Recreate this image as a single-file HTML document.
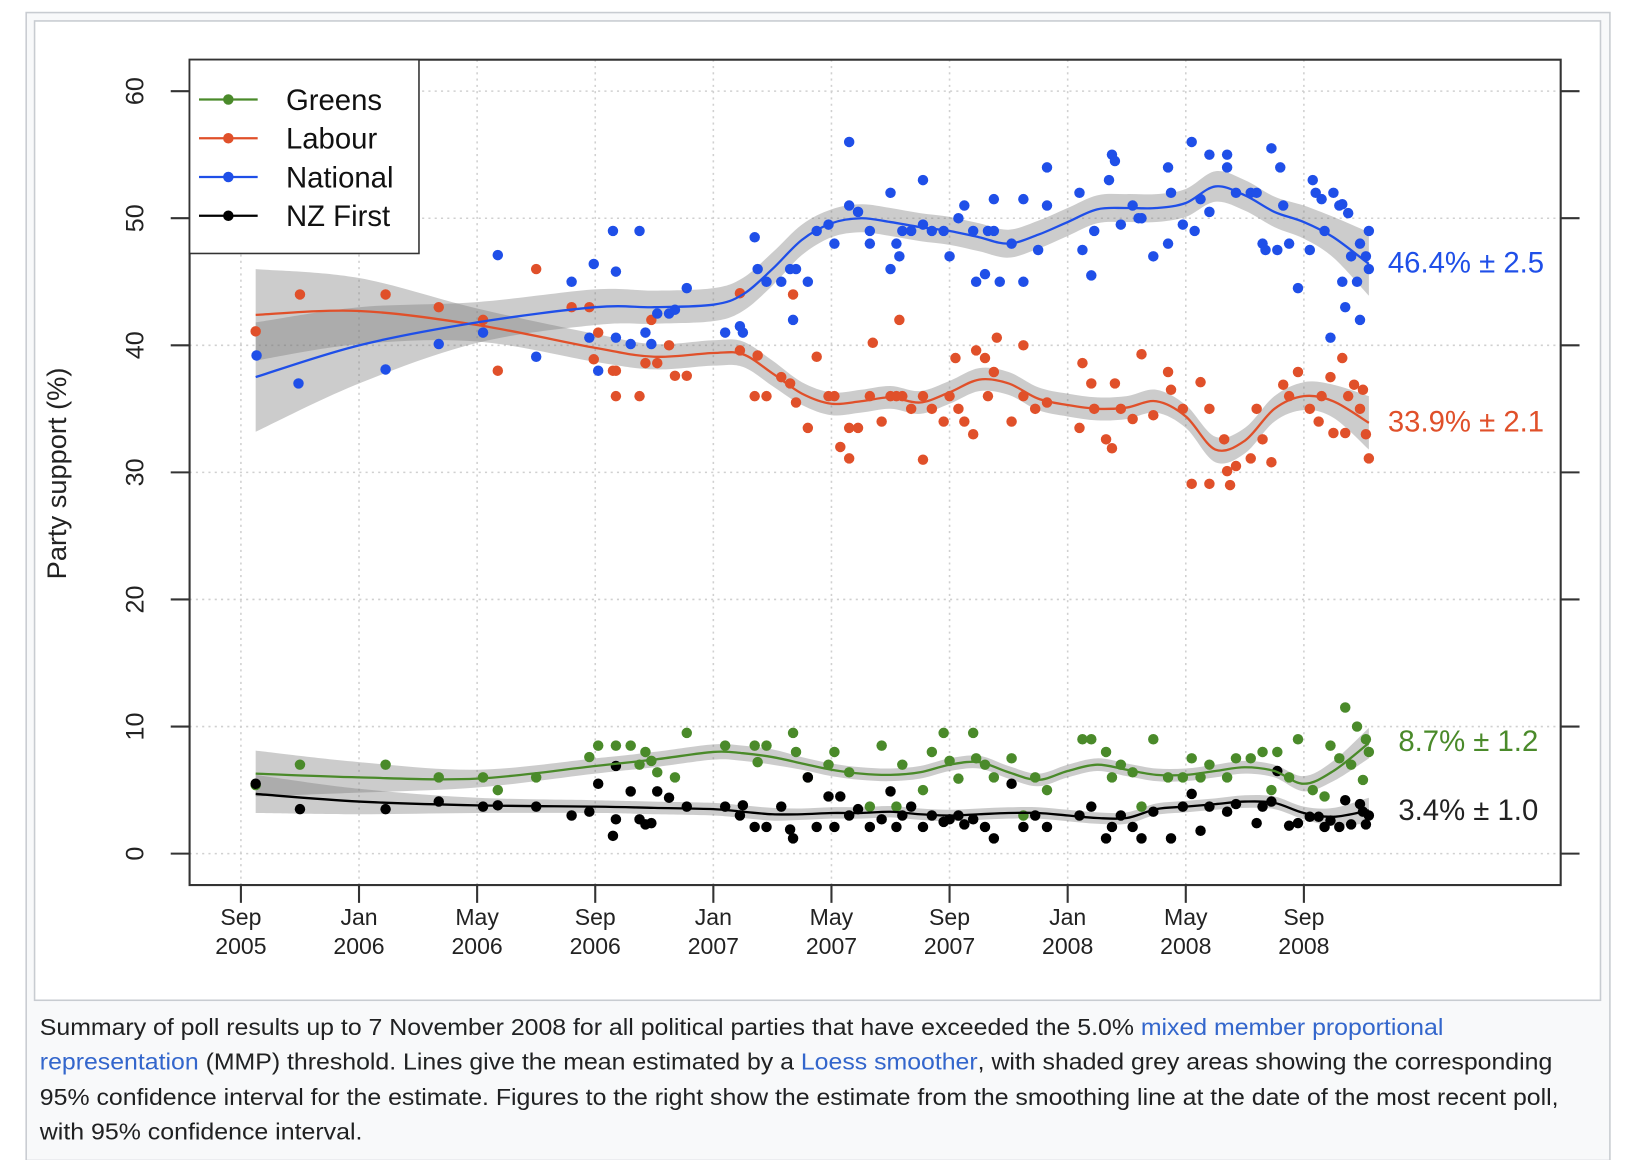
<!DOCTYPE html>
<html><head><meta charset="utf-8">
<style>
html,body{margin:0;padding:0;background:#fff;}
svg{display:block;}
text{font-family:"Liberation Sans",Arial,sans-serif;}
</style></head>
<body>
<svg id="chart" width="1634" height="1160" viewBox="0 0 1560 1107.5" preserveAspectRatio="none" xmlns="http://www.w3.org/2000/svg">
  <rect x="25" y="12" width="1512" height="1096" fill="#f8f9fa" stroke="#c8ccd1" stroke-width="1.5"/>
  <rect x="33" y="20" width="1495" height="935" fill="#ffffff" stroke="#c8ccd1" stroke-width="1.5"/>
  <g id="grid"></g>
  <g id="bands"></g>
  <g id="points"></g>
  <g id="lines"></g>
  <g id="axes"></g>
  <rect x="181" y="57" width="1309" height="788" fill="none" stroke="#333" stroke-width="2"/>
  <text transform="translate(63,452) rotate(-90)" text-anchor="middle" font-size="26" fill="#222">Party support (%)</text>
  <g id="legend">
    <rect x="181" y="57" width="219" height="185" fill="#fff" stroke="#333" stroke-width="1.5"/>
  </g>
  <g id="endlabels">
    <text x="1325" y="260" font-size="28" fill="#1f4fe8">46.4% ± 2.5</text>
    <text x="1325" y="412" font-size="28" fill="#e0502a">33.9% ± 2.1</text>
    <text x="1335" y="717" font-size="28" fill="#4a8a2a">8.7% ± 1.2</text>
    <text x="1335" y="783" font-size="28" fill="#222">3.4% ± 1.0</text>
  </g>
  <g font-size="22.5" fill="#202122">
    <text x="38" y="988" textLength="1340" lengthAdjust="spacingAndGlyphs">Summary of poll results up to 7 November 2008 for all political parties that have exceeded the 5.0% <tspan fill="#3366cc">mixed member proportional</tspan></text>
    <text x="38" y="1021" textLength="1444" lengthAdjust="spacingAndGlyphs"><tspan fill="#3366cc">representation</tspan> (MMP) threshold. Lines give the mean estimated by a <tspan fill="#3366cc">Loess smoother</tspan>, with shaded grey areas showing the corresponding</text>
    <text x="38" y="1055" textLength="1450" lengthAdjust="spacingAndGlyphs">95% confidence interval for the estimate. Figures to the right show the estimate from the smoothing line at the date of the most recent poll,</text>
    <text x="38" y="1088" textLength="308" lengthAdjust="spacingAndGlyphs">with 95% confidence interval.</text>
  </g>
</svg>
<script>
// ---- data (months since Sep 2005, percent) ----
const xTickMonths = [0,4,8,12,16,20,24,28,32,36];
const xTickMonthLabels = ["Sep","Jan","May","Sep","Jan","May","Sep","Jan","May","Sep"];
const xTickYearLabels = ["2005","2006","2006","2006","2007","2007","2007","2008","2008","2008"];
const yTicks = [0,10,20,30,40,50,60];
const parties = ["Greens","Labour","National","NZ First"];

const nationalPolls = [[0.53,39.2],[1.95,37],[4.9,38.1],[6.7,40.1],[8.2,41],[8.7,47.1],[10,39.1],[11.2,45],[11.8,40.6],[11.95,46.4],[12.1,38],[12.6,49],[12.7,45.8],[12.7,40.6],[13.2,40.1],[13.5,49],[13.7,41],[13.9,40.1],[14.1,42.5],[14.5,42.5],[14.7,42.8],[15.1,44.5],[16.4,41],[17,41],[16.9,41.5],[17.4,48.5],[17.5,46],[17.8,45],[18.3,45],[18.6,46],[18.7,42],[18.8,46],[19.2,45],[19.5,49],[19.9,49.5],[20.1,48],[20.6,56],[20.6,51],[20.9,50.5],[21.3,49],[21.3,48],[22,46],[22,52],[22.2,48],[22.3,47],[22.4,49],[22.7,49],[23.1,53],[23.1,49.5],[23.4,49],[23.8,49],[24,47],[24.3,50],[24.5,51],[24.8,49],[24.9,45],[25.2,45.6],[25.3,49],[25.5,49],[25.5,51.5],[25.7,45],[26.1,48],[26.5,45],[26.5,51.5],[27,47.5],[27.3,54],[27.3,51],[28.4,52],[28.5,47.5],[28.8,45.5],[28.9,49],[29.4,53],[29.5,55],[29.6,54.5],[29.8,49.5],[30.2,51],[30.4,50],[30.5,50],[30.9,47],[31.4,48],[31.4,54],[31.5,52],[31.9,49.5],[32.2,56],[32.3,49],[32.5,51.5],[32.8,55],[32.8,50.5],[33.4,54],[33.4,55],[33.7,52],[34.2,52],[34.4,52],[34.6,48],[34.7,47.5],[34.9,55.5],[35.1,47.5],[35.2,54],[35.3,51],[35.5,48],[35.8,44.5],[36.2,47.5],[36.3,53],[36.4,52],[36.6,51.5],[36.7,49],[36.9,40.6],[37,52],[37.2,51],[37.3,51.1],[37.3,45],[37.4,43],[37.5,50.4],[37.6,47],[37.8,45],[37.9,42],[37.9,48],[38.1,47],[38.2,49],[38.2,46]];
const labourPolls = [[0.5,41.1],[2,44],[4.9,44],[6.7,43],[8.2,42],[8.7,38],[10,46],[11.2,43],[11.8,43],[12.1,41],[11.95,38.9],[12.6,38],[12.7,36],[12.7,38],[13.5,36],[13.7,38.6],[13.9,42],[14.1,38.6],[14.5,40],[14.7,37.6],[15.1,37.6],[16.9,44.1],[16.9,39.6],[17.4,36],[17.5,39.2],[17.8,36],[18.3,37.5],[18.6,37],[18.7,44],[18.8,35.5],[19.2,33.5],[19.5,39.1],[19.9,36],[20.1,36],[20.3,32],[20.6,31.1],[20.6,33.5],[20.9,33.5],[21.3,36],[21.4,40.2],[21.7,34],[22,36],[22.2,36],[22.3,42],[22.4,36],[22.7,35],[23.1,31],[23.1,36],[23.4,35],[23.8,34],[24,36],[24.2,39],[24.3,35],[24.5,34],[24.8,33],[24.9,39.6],[25.2,39],[25.3,36],[25.5,37.9],[25.6,40.6],[26.1,34],[26.5,40],[26.5,36],[26.9,35],[27.3,35.5],[28.4,33.5],[28.5,38.6],[28.8,37],[28.9,35],[29.3,32.6],[29.5,31.9],[29.6,37],[29.8,35],[30.2,34.2],[30.5,39.3],[30.9,34.5],[31.4,37.9],[31.5,36.5],[31.9,35],[32.2,29.1],[32.5,37.1],[32.8,29.1],[32.8,35],[33.3,32.6],[33.4,30.1],[33.5,29],[33.7,30.5],[34.2,31.1],[34.4,35],[34.6,32.6],[34.9,30.8],[35.3,36.9],[35.5,36],[35.8,37.9],[36.2,35],[36.5,34],[36.6,36],[36.9,37.5],[37,33.1],[37.3,39],[37.4,33.1],[37.5,36],[37.7,36.9],[37.9,35],[38,36.5],[38.1,33],[38.2,31.1]];
const greensPolls = [[0.5,5.4],[2,7],[4.9,7],[6.7,6],[8.2,6],[8.7,5],[10,6],[11.8,7.6],[12.1,8.5],[12.7,8.5],[13.2,8.5],[13.5,7],[13.7,8],[13.9,7.3],[14.1,6.4],[14.7,6],[15.1,9.5],[16.4,8.5],[17.4,8.5],[17.5,7.2],[17.8,8.5],[18.7,9.5],[18.8,8],[19.2,6],[19.9,7],[20.1,8],[20.6,6.4],[21.3,3.7],[21.7,8.5],[22.2,3.7],[22.4,7],[23.1,5],[23.4,8],[23.8,9.5],[24,7.3],[24.3,5.9],[24.8,9.5],[24.9,7.5],[25.2,7],[25.5,6],[26.1,7.5],[26.5,3],[26.9,6],[27.3,5],[28.5,9],[28.8,9],[29.3,8],[29.5,6],[29.8,7],[30.2,6.4],[30.5,3.7],[30.9,9],[31.4,6],[31.9,6],[32.2,7.5],[32.5,6],[32.8,7],[33.4,6],[33.7,7.5],[34.2,7.5],[34.6,8],[34.9,5],[35.1,8],[35.5,6],[35.8,9],[36.3,5],[36.7,4.5],[36.9,8.5],[37.2,7.5],[37.4,11.5],[37.6,7],[37.8,10],[38,5.8],[38.1,9],[38.2,8]];
const nzfirstPolls = [[0.5,5.5],[2,3.5],[4.9,3.5],[6.7,4.1],[8.2,3.7],[8.7,3.8],[10,3.7],[11.2,3],[11.8,3.3],[12.1,5.5],[12.6,1.4],[12.7,2.7],[12.7,6.9],[13.2,4.9],[13.5,2.7],[13.7,2.3],[13.9,2.4],[14.1,4.9],[14.5,4.4],[15.1,3.7],[16.4,3.7],[16.9,3],[17,3.8],[17.4,2.1],[17.8,2.1],[18.3,3.7],[18.6,1.9],[18.7,1.2],[19.2,6],[19.5,2.1],[19.9,4.5],[20.1,2.1],[20.3,4.5],[20.6,3],[20.9,3.5],[21.3,2.1],[21.7,2.7],[22,4.9],[22.2,2.1],[22.4,3],[22.7,3.7],[23.1,2.1],[23.4,3],[23.8,2.5],[24,2.7],[24.3,3],[24.5,2.3],[24.8,2.7],[25.2,2.1],[25.5,1.2],[26.1,5.5],[26.5,2.1],[26.9,3],[27.3,2.1],[28.4,3],[28.8,3.7],[29.3,1.2],[29.5,2.1],[29.8,3],[30.2,2.1],[30.5,1.2],[30.9,3.3],[31.5,1.2],[31.9,3.7],[32.2,4.7],[32.5,1.8],[32.8,3.7],[33.4,3.3],[33.7,3.9],[34.4,2.4],[34.6,3.7],[34.9,4.1],[35.1,6.5],[35.5,2.2],[35.8,2.4],[36.2,2.9],[36.5,2.9],[36.7,2.1],[36.9,2.6],[37.2,2.1],[37.4,4.2],[37.6,2.3],[37.9,3.9],[38,3.3],[38.1,2.3],[38.2,3]];

const smoothMonths = [0.5,4,8,12,14,16,17,18,19,20,21,22,23,24,25,26,27,28,29,30,31,32,33,34,35,36,37,38.2];
const nationalSmooth = [37.5,40,41.8,43,43,43.2,44,46,48.3,49.6,50,49.7,49.3,49,48.5,48,48.7,49.7,50.7,50.8,50.8,51.2,52.5,51.8,50.5,49.7,48.5,46.4];
const nationalBand   = [4.3,3,1.6,1.4,1.3,1.3,1.3,1.3,1.2,1.1,1.1,1.1,1.1,1.1,1.1,1.1,1.1,1.1,1.1,1.1,1.1,1.1,1.2,1.2,1.2,1.3,1.6,2.5];
const labourSmooth   = [42.4,42.7,41.6,39.8,39.1,39.4,39.3,37.8,36.2,35.4,35.6,35.9,35.5,36.3,37.3,37,35.8,35.3,35,35.1,35.6,34.4,31.8,32.5,35,36,35.6,33.9];
const labourBand     = [3.6,2.6,1.3,1.1,1,1,1,1,0.9,0.9,0.9,0.9,0.9,0.9,0.9,0.9,0.9,0.9,0.9,0.9,0.9,0.9,1,1,1,1.1,1.3,2.1];
const greensSmooth   = [6.3,6,5.9,6.9,7.4,8,7.9,7.6,7.1,6.6,6.3,6.2,6.4,7,7.2,6.4,5.8,6.5,7,6.6,6.2,6.2,6.5,6.8,6.5,5.5,6.5,8.7];
const greensBand     = [1.8,1.2,0.7,0.6,0.6,0.6,0.6,0.6,0.5,0.5,0.5,0.5,0.5,0.5,0.5,0.5,0.5,0.5,0.5,0.5,0.5,0.5,0.5,0.5,0.5,0.6,0.8,1.2];
const nzfirstSmooth  = [4.7,4.1,3.8,3.7,3.6,3.5,3.3,3.1,3.1,3.2,3.2,3.3,3.1,3,3.1,3.2,3.2,3.0,2.8,2.8,3.5,3.7,3.9,4.1,4.0,3.2,2.9,3.4];
const nzfirstBand    = [1.5,1,0.6,0.5,0.5,0.5,0.5,0.5,0.45,0.45,0.45,0.45,0.45,0.45,0.45,0.45,0.45,0.45,0.45,0.45,0.45,0.45,0.45,0.5,0.5,0.5,0.7,1.0];

// ---- scales ----
const NS = "http://www.w3.org/2000/svg";
function X(m){ return 230 + m*28.19; }
function Y(v){ return 815 - v*12.133; }
function mk(tag, attrs, parent){
  const e = document.createElementNS(NS, tag);
  for (const k in attrs) e.setAttribute(k, attrs[k]);
  parent.appendChild(e); return e;
}
function curve(pts){
  let d = "M" + pts[0][0].toFixed(1) + "," + pts[0][1].toFixed(1);
  for (let i=0;i<pts.length-1;i++){
    const p0 = pts[i-1]||pts[i], p1=pts[i], p2=pts[i+1], p3=pts[i+2]||p2;
    const c1x=p1[0]+(p2[0]-p0[0])/6, c1y=p1[1]+(p2[1]-p0[1])/6;
    const c2x=p2[0]-(p3[0]-p1[0])/6, c2y=p2[1]-(p3[1]-p1[1])/6;
    d += " C"+c1x.toFixed(1)+","+c1y.toFixed(1)+" "+c2x.toFixed(1)+","+c2y.toFixed(1)+" "+p2[0].toFixed(1)+","+p2[1].toFixed(1);
  }
  return d;
}
function curveCont(pts){ return curve(pts).replace(/^M/,"L"); }

const grid = document.getElementById('grid');
const axes = document.getElementById('axes');
yTicks.forEach(v=>{
  const g = mk('line',{x1:181,x2:1490,y1:Y(v),y2:Y(v),stroke:'#d0d0d0','stroke-width':1.5,'stroke-dasharray':'2,4'},grid);
  
  
  const t1 = mk('line',{x1:163,x2:181,y1:Y(v),y2:Y(v),stroke:'#333','stroke-width':2},axes);
  
  
  const t2 = mk('line',{x1:1490,x2:1508,y1:Y(v),y2:Y(v),stroke:'#333','stroke-width':2},axes);
  
  
  const tl = mk('text',{transform:'translate(137,'+Y(v)+') rotate(-90)','text-anchor':'middle','font-size':24,fill:'#222'},axes);
  tl.textContent = String(v);
  
  
});
xTickMonths.forEach((m,i)=>{
  const g = mk('line',{x1:X(m),x2:X(m),y1:57,y2:845,stroke:'#d0d0d0','stroke-width':1.5,'stroke-dasharray':'2,4'},grid);
  
  
  const t = mk('line',{x1:X(m),x2:X(m),y1:845,y2:862,stroke:'#333','stroke-width':2},axes);
  
  
  const a = mk('text',{x:X(m),y:883,'text-anchor':'middle','font-size':22,fill:'#222'},axes);
  a.textContent = xTickMonthLabels[i];
  
  
  const b = mk('text',{x:X(m),y:911,'text-anchor':'middle','font-size':22,fill:'#222'},axes);
  b.textContent = xTickYearLabels[i];
  
  
});

const series = [
  {key:'greens', color:'#4a8a2a', polls:greensPolls, smooth:greensSmooth, band:greensBand},
  {key:'labour', color:'#e0502a', polls:labourPolls, smooth:labourSmooth, band:labourBand},
  {key:'national', color:'#1f4fe8', polls:nationalPolls, smooth:nationalSmooth, band:nationalBand},
  {key:'nzfirst', color:'#000000', polls:nzfirstPolls, smooth:nzfirstSmooth, band:nzfirstBand}
];
const bands = document.getElementById('bands');
const pts = document.getElementById('points');
const lines = document.getElementById('lines');
series.forEach(s=>{
  const up = smoothMonths.map((m,i)=>[X(m),Y(s.smooth[i]+s.band[i])]);
  const lo = smoothMonths.map((m,i)=>[X(m),Y(s.smooth[i]-s.band[i])]).reverse();
  const b = mk('path',{d:curve(up)+" "+curveCont(lo)+" Z",fill:'#7a7a7a','fill-opacity':0.38,stroke:'none'},bands);
  
  
  s.polls.forEach(p=>{
    const c = mk('circle',{cx:X(p[0]),cy:Y(p[1]),r:5,fill:s.color},pts);
    
    
  });
});
series.forEach(s=>{
  const l = mk('path',{d:curve(smoothMonths.map((m,i)=>[X(m),Y(s.smooth[i])])),fill:'none',stroke:s.color,'stroke-width':2.2},lines);
  
  
});

// legend
const legend = document.getElementById('legend');
const legendColors = ['#4a8a2a','#e0502a','#1f4fe8','#000000'];
parties.forEach((p,i)=>{
  const y = 95 + i*37;
  const g = mk('g',{},legend);
  
  
  mk('line',{x1:190,x2:246,y1:y,y2:y,stroke:legendColors[i],'stroke-width':2.2},g);
  mk('circle',{cx:218,cy:y,r:5,fill:legendColors[i]},g);
  const t = mk('text',{x:273,y:y+10,'font-size':28,fill:'#111'},g);
  t.textContent = p;
});
</script>
</body></html>
